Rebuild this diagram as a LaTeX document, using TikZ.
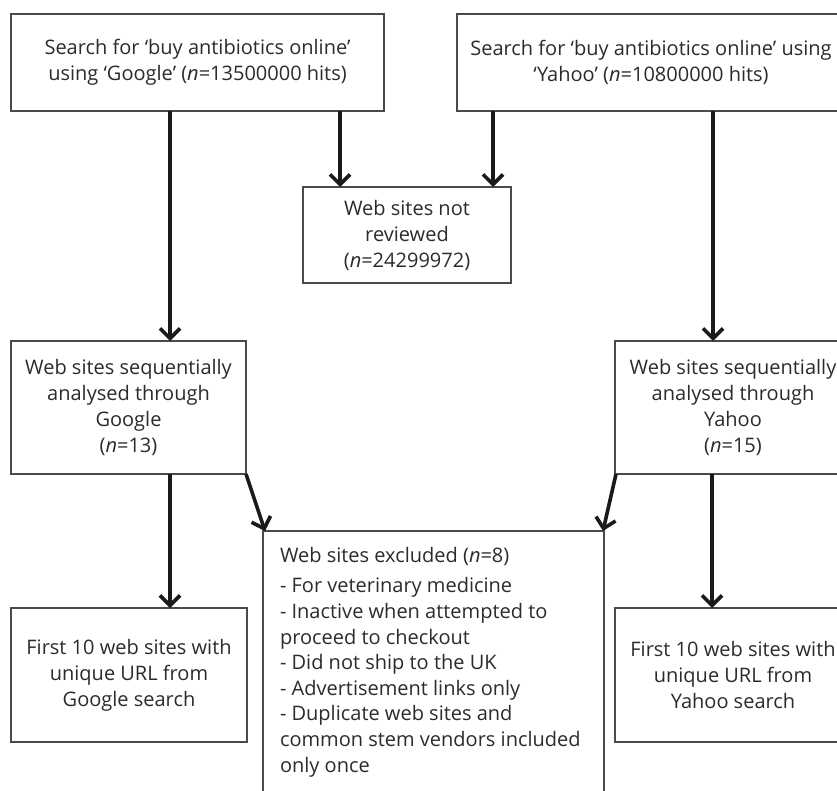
\documentclass[tikz,border=0pt]{standalone}
\usepackage{fontspec}
\setmainfont{Open Sans}
\usetikzlibrary{arrows.meta,calc}
\definecolor{txt}{HTML}{2B2B2B}
\definecolor{edgec}{HTML}{4A4A4A}
\definecolor{arrc}{HTML}{1A1A1A}
\begin{document}
\begin{tikzpicture}[x=1pt,y=-1pt,
  box/.style={draw=edgec, line width=1.3pt, text=txt, align=center, inner sep=0pt, outer sep=0pt,
    font=\fontsize{20}{26}\selectfont},
  arr/.style={draw=arrc, line width=3.6pt,
    -{Straight Barb[length=10pt,width=20pt,line width=3.6pt]}},
  listtext/.style={text=txt, align=left, inner sep=0pt, outer sep=0pt, anchor=north west,
    font=\fontsize{20}{25.6}\selectfont}
]
\useasboundingbox (0,0) rectangle (837,791);
\clip (0,0) rectangle (837,791);

\node[box, minimum width=373pt, minimum height=97pt] (g1) at (197.5,62.5)
  {Search for ‘buy antibiotics online’\\using ‘Google’ (\textit{n}=13500000 hits)};
\node[box, minimum width=388pt, minimum height=97pt] (y1) at (651,62.5)
  {Search for ‘buy antibiotics online’ using\\‘Yahoo’ (\textit{n}=10800000 hits)};
\node[box, minimum width=208pt, minimum height=96pt] (nr) at (407,235)
  {Web sites not\\reviewed\\(\textit{n}=24299972)};
\node[box, minimum width=235pt, minimum height=133pt] (gs) at (128.5,407.5)
  {Web sites sequentially\\analysed through\\Google\\(\textit{n}=13)};
\node[box, minimum width=236pt, minimum height=133pt] (ys) at (733,407.5)
  {Web sites sequentially\\analysed through\\Yahoo\\(\textit{n}=15)};
\node[box, minimum width=236pt, minimum height=134pt] (g10) at (129,675)
  {First 10 web sites with\\unique URL from\\Google search};
\node[box, minimum width=236pt, minimum height=134pt] (y10) at (733,675)
  {First 10 web sites with\\unique URL from\\Yahoo search};
\node[box, minimum width=341pt, minimum height=289pt] (ex) at (433.5,675.5) {};
\node[listtext] (exlab) at (280,547)
  {Web sites excluded (\textit{n}=8)\\[5pt]
   - For veterinary medicine\\
   - Inactive when attempted to\\
   proceed to checkout\\
   - Did not ship to the UK\\
   - Advertisement links only\\
   - Duplicate web sites and\\
   common stem vendors included\\
   only once};

\coordinate (a1) at ($(g1.south west)+(159,0)$);
\coordinate (a2) at ($(g1.south west)+(329,0)$);
\coordinate (a3) at ($(y1.south west)+(36,0)$);
\coordinate (a4) at ($(y1.south west)+(256,0)$);
\coordinate (a5) at ($(gs.south west)+(159,0)$);
\coordinate (a6) at ($(ys.south west)+(97,0)$);

\draw[arr] (a1) -- (a1 |- gs.north);
\draw[arr] (a2) -- (a2 |- nr.north);
\draw[arr] (a3) -- (a3 |- nr.north);
\draw[arr] (a4) -- (a4 |- ys.north);
\draw[arr] (a5) -- (a5 |- g10.north);
\draw[arr] (a6) -- (a6 |- y10.north);
\draw[arr] (gs.south east) -- ($(ex.north west)+(2,0)$);
\draw[arr] ($(ys.south west)+(1,0)$) -- ($(ex.north east)+(-1,0)$);
\end{tikzpicture}
\end{document}
